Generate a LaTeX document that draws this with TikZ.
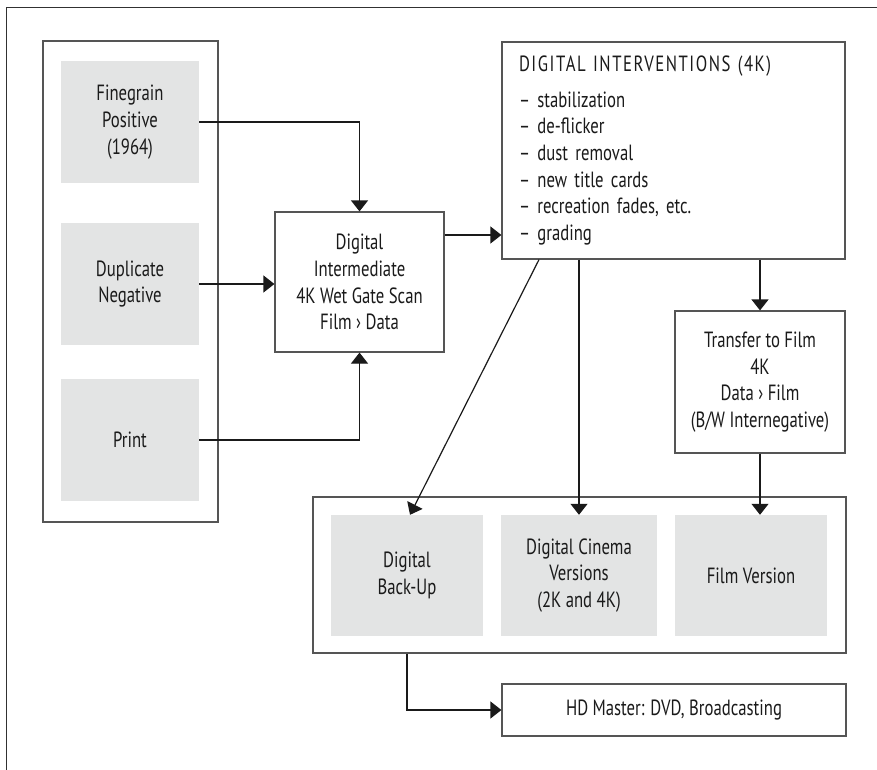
\documentclass[tikz,border=0pt]{standalone}
\usepackage{fontspec}
\setmainfont{PT Sans}[FakeStretch=0.76]
\usetikzlibrary{arrows.meta}
\definecolor{boxgray}{HTML}{E3E4E4}
\definecolor{edge}{HTML}{555555}
\definecolor{ink}{HTML}{1A1A1A}
\begin{document}
\begin{tikzpicture}[x=1pt,y=-1pt,
  font=\fontsize{22}{26.7}\selectfont, text=ink,
  frame/.style={draw=edge, line width=1.2pt, inner sep=0pt},
  graybox/.style={fill=boxgray, draw=none, align=center, inner sep=0pt},
  plainbox/.style={draw=edge, line width=1.2pt, fill=white, align=center, inner sep=0pt},
  conn/.style={draw=ink, line width=1.2pt},
  arr/.style={conn, -{Triangle[length=11pt,width=17pt]}}]
\useasboundingbox (0,0) rectangle (877,770);
% outer frame (top and left edges only)
\draw[draw=ink!90, line width=1.5pt] (6.5,770) -- (6.5,7.5) -- (877,7.5);

% left container and sources
\node[frame, minimum width=175pt, minimum height=481pt] (leftc) at (130.5,281.5) {};
\node[graybox, minimum width=138pt, minimum height=122pt] (fine) at (130,122) {Finegrain\\Positive\\(1964)};
\node[graybox, minimum width=138pt, minimum height=122pt] (dup) at (130,284) {Duplicate\\Negative};
\node[graybox, minimum width=138pt, minimum height=122pt] (print) at (130,440) {Print};

% digital intermediate
\node[plainbox, minimum width=169pt, minimum height=140pt] (di) at (359.5,282) {Digital\\Intermediate\\4K Wet Gate Scan\\Film › Data};

% digital interventions
\node[plainbox, minimum width=343pt, minimum height=217pt, text width=309pt, align=left] (dint) at (673.5,150.5)
  {{\addfontfeatures{LetterSpace=7}DIGITAL INTERVENTIONS (4K)}\\[9pt]– stabilization\\– de-flicker\\– dust removal\\– new title cards\\– recreation fades, etc.\\– grading};

% transfer to film
\node[plainbox, minimum width=170pt, minimum height=142pt] (transfer) at (760,382) {Transfer to Film\\4K\\Data › Film\\(B/W Internegative)};

% lower container and outputs
\node[frame, minimum width=533pt, minimum height=156pt] (lowc) at (579.5,575) {};
\node[graybox, minimum width=152pt, minimum height=121pt] (backup) at (407,575.5) {Digital\\Back-Up};
\node[graybox, minimum width=156pt, minimum height=121pt] (cinema) at (579,575.5) {Digital Cinema\\Versions\\(2K and 4K)};
\node[graybox, minimum width=152pt, minimum height=121pt] (film) at (751,575.5) {Film Version};

% HD master
\node[plainbox, minimum width=344pt, minimum height=52pt] (hd) at (674,710) {HD Master: DVD, Broadcasting};

% connectors
\draw[arr] (fine.east) -| (di.north);
\draw[arr] (dup.east) -- (dup.east -| di.west);
\draw[arr] (print.east) -| (di.south);
\draw[arr] ([yshift=47pt]di.east) -- ([yshift=47pt]di.east -| dint.west);
\coordinate (bk) at ([xshift=-134.5pt]dint.south);
\draw[arr] (bk) -- ([xshift=3pt]backup.north);
\draw[arr] (cinema.north |- dint.south) -- (cinema.north);
\draw[arr] (transfer.north |- dint.south) -- (transfer.north);
\draw[arr] (transfer.south) -- (transfer.south |- film.north);
\draw[arr] (backup.south |- lowc.south) |- (hd.west);
\end{tikzpicture}
\end{document}
